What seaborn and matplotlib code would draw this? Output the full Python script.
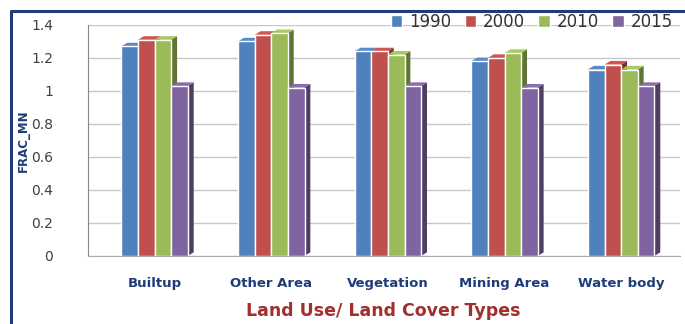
import pandas as pd
import matplotlib.pyplot as plt
import seaborn as sns
from matplotlib.patches import Polygon
from matplotlib.lines import Line2D
from matplotlib.colors import to_rgb

# -------------------------
# Data
# -------------------------
categories = ["Builtup", "Other Area", "Vegetation", "Mining Area", "Water body"]
years = ["1990", "2000", "2010", "2015"]
v1990 = [1.27, 1.30, 1.24, 1.18, 1.13]
v2000 = [1.31, 1.34, 1.24, 1.20, 1.16]
v2010 = [1.31, 1.35, 1.22, 1.23, 1.13]
v2015 = [1.03, 1.02, 1.03, 1.02, 1.03]

colors = ["#4F81BD", "#C0504D", "#9BBB59", "#8064A2"]

df = pd.DataFrame({
    "type": categories * 4,
    "year": sum([[y] * len(categories) for y in years], []),
    "value": v1990 + v2000 + v2010 + v2015,
})

# -------------------------
# Plot
# -------------------------
sns.set_style("white")
plt.rcParams["font.family"] = ["DejaVu Sans"]

fig = plt.figure(figsize=(6.85, 3.24), dpi=100)
ax = fig.add_axes([0.128, 0.21, 0.864, 0.713])

sns.barplot(data=df, x="type", y="value", hue="year", palette=colors,
            width=0.57, saturation=1, ax=ax, zorder=3)

ax.set_ylim(0, 1.4)
ax.set_xlim(-0.574, 4.5)

# fake 3D: side and top faces taken from each drawn bar
dx, dy = 0.05, 0.022
for bar in ax.patches:
    x0, w, h = bar.get_x(), bar.get_width(), bar.get_height()
    if w == 0 or h == 0:
        continue
    c = to_rgb(bar.get_facecolor())
    side = tuple(v * 0.62 for v in c)
    top = tuple(min(1, v * 1.08) for v in c)
    x1 = x0 + w
    ax.add_patch(Polygon([(x1, 0), (x1 + dx, dy), (x1 + dx, h + dy), (x1, h)],
                         closed=True, facecolor=side, edgecolor="none", zorder=2.6,
                         clip_on=False))
    ax.add_patch(Polygon([(x0, h), (x0 + dx, h + dy), (x1 + dx, h + dy), (x1, h)],
                         closed=True, facecolor=top, edgecolor="none", zorder=2.6,
                         clip_on=False))

ax.set_yticks([0, 0.2, 0.4, 0.6, 0.8, 1.0, 1.2, 1.4])
ax.set_yticklabels(["0", "0.2", "0.4", "0.6", "0.8", "1", "1.2", "1.4"],
                   color="#404040", fontsize=10)
ax.yaxis.grid(True, color="#C8C8C8", linewidth=1, zorder=0)
ax.tick_params(axis="y", length=4, color="#888888", pad=21)
ax.tick_params(axis="x", length=0, pad=15)
for lab in ax.get_xticklabels():
    lab.set_color("#1F3C78")
    lab.set_fontweight("bold")
    lab.set_fontsize(9.5)

for s in ["top", "right"]:
    ax.spines[s].set_visible(False)
ax.spines["left"].set_color("#888888")
ax.spines["bottom"].set_color("#AAAAAA")

ax.set_ylabel("FRAC_MN", color="#1F3C78", fontweight="bold", fontsize=8.5)
ax.yaxis.set_label_coords(-0.098, 0.5)
ax.set_xlabel("Land Use/ Land Cover Types", color="#A0302D", fontweight="bold",
              fontsize=12.5, labelpad=9)

ax.legend(loc="upper right", bbox_to_anchor=(1.0, 1.08), ncol=4, frameon=False,
          fontsize=12, handlelength=0.7, handleheight=0.7, columnspacing=0.8,
          handletextpad=0.4, labelcolor="#333333", borderaxespad=0)

# border lines (top and left) around the chart
fig.add_artist(Line2D([0.016, 1.0], [0.967, 0.967], transform=fig.transFigure,
                      color="#1F3C78", linewidth=2.2))
fig.add_artist(Line2D([0.016, 0.016], [0.0, 0.967], transform=fig.transFigure,
                      color="#1F3C78", linewidth=2.2))

plt.savefig("out.png", dpi=100)
plt.close()
